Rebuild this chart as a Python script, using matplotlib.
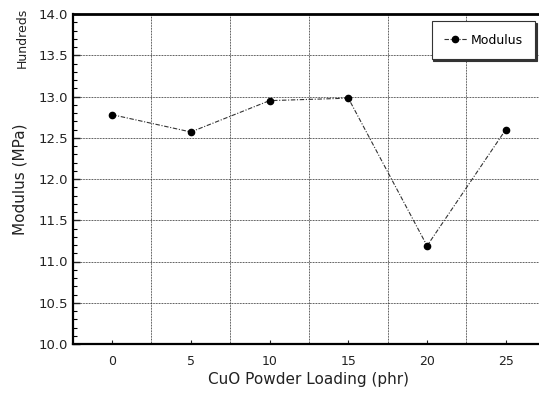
import numpy as np
import matplotlib
matplotlib.use("Agg")
import matplotlib.pyplot as plt
from matplotlib.ticker import MultipleLocator, FixedLocator, FormatStrFormatter

loading = ["0", "5", "10", "15", "20", "25"]
modulus = [12.78, 12.57, 12.95, 12.98, 11.19, 12.60]  # hundreds of MPa

fig = plt.figure(figsize=(5.39, 3.93), dpi=100)
W, H = 539, 393
left, right, top, bottom = 72.7, 545.2, 14, 344
ax = fig.add_axes([left / W, 1 - bottom / H, (right - left) / W, (bottom - top) / H])

x = np.arange(len(loading))
ax.plot(x, modulus, color="#333333", lw=0.8, ls=(0, (4, 1.5, 1, 1.5)),
        marker="o", ms=4.5, mfc="black", mec="black", label="Modulus")

ax.set_xlim(-0.5, len(loading) - 0.5)
ax.set_ylim(10.0, 14.0)
ax.set_xticks(x)
ax.set_xticklabels(loading)
ax.xaxis.set_minor_locator(FixedLocator(x[:-1] + 0.5))
ax.yaxis.set_major_locator(MultipleLocator(0.5))
ax.yaxis.set_minor_locator(MultipleLocator(0.1))
ax.yaxis.set_major_formatter(FormatStrFormatter("%.1f"))

ax.tick_params(axis="x", which="major", direction="in", length=3, width=0.8,
               labelsize=9, pad=8, colors="#222222")
ax.tick_params(axis="x", which="minor", length=0)
ax.tick_params(axis="y", which="major", direction="in", length=5, width=1,
               labelsize=9.5, colors="#222222")
ax.tick_params(axis="y", which="minor", direction="in", length=3, width=0.8)

grid_style = dict(color="#333333", ls=(0, (0.8, 0.8)), lw=0.7)
ax.grid(axis="x", which="minor", **grid_style)
ax.grid(axis="y", which="major", **grid_style)

for s in ["left", "bottom"]:
    ax.spines[s].set_linewidth(1.6)
ax.spines["top"].set_linewidth(2.0)
ax.spines["right"].set_visible(False)

ax.set_xlabel("CuO Powder Loading (phr)", fontsize=11, color="#222222", labelpad=3)
ax.set_ylabel("Modulus (MPa)", fontsize=11, color="#222222", labelpad=8)
fig.text(22 / W, 1 - 38 / H, "Hundreds", rotation=90, fontsize=9,
         color="#222222", ha="center", va="center")

leg = ax.legend(loc="upper right",
                bbox_to_anchor=((535 - left) / (right - left), 1 - 7 / (bottom - top)),
                borderaxespad=0, fontsize=9, frameon=True, fancybox=False,
                shadow={"ox": 1.2, "oy": -1.2, "color": "#333333", "alpha": 1},
                handlelength=1.8, handletextpad=0.3, borderpad=1.0, edgecolor="#333333")
leg.get_frame().set_linewidth(0.8)

fig.savefig("out.png", dpi=100)
